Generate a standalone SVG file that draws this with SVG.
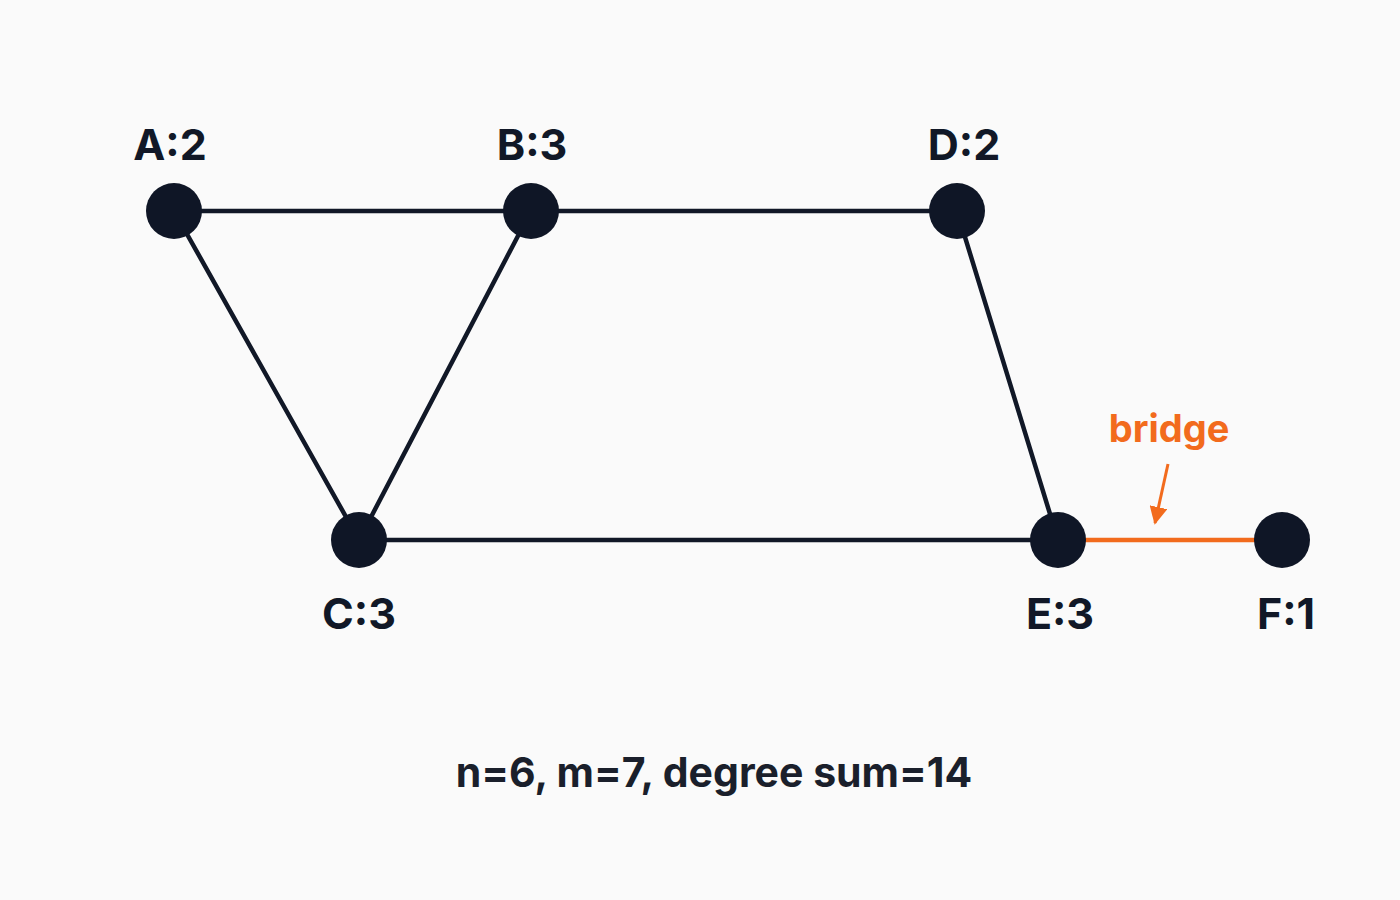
<svg xmlns="http://www.w3.org/2000/svg" width="1400" height="900" viewBox="0 0 1400 900">
<defs>
<style>
.edge{stroke:#111827;stroke-width:4.5;stroke-linecap:round;fill:none}
.bridge{stroke:#F26B1D;stroke-width:4.5;fill:none}
.node{fill:#0F1626}
.lbl{font-family:Inter,"Liberation Sans",sans-serif;font-weight:700;font-size:43px;fill:#111827;text-anchor:middle}
.orange{font-family:Inter,"Liberation Sans",sans-serif;font-weight:700;font-size:38px;fill:#F26B1D;text-anchor:middle}
.cap{font-family:Inter,"Liberation Sans",sans-serif;font-weight:700;font-size:41px;fill:#1a1f2b;text-anchor:middle}
</style>
<marker id="ah" viewBox="0 0 10 10" refX="9" refY="5" markerWidth="6" markerHeight="6" orient="auto" markerUnits="strokeWidth">
<path d="M0,0 L10,5 L0,10 Z" fill="#F26B1D"/>
</marker>
</defs>
<rect width="1400" height="900" fill="#FAFAFA"/>
<g id="connectors">
<line class="edge" x1="174" y1="211" x2="531" y2="211"/>
<line class="edge" x1="531" y1="211" x2="957" y2="211"/>
<line class="edge" x1="174" y1="211" x2="359" y2="540"/>
<line class="edge" x1="531" y1="211" x2="359" y2="540"/>
<line class="edge" x1="957" y1="211" x2="1058" y2="540"/>
<line class="edge" x1="359" y1="540" x2="1058" y2="540"/>
<line class="bridge" x1="1058" y1="540" x2="1282" y2="540"/>
<line stroke="#F26B1D" stroke-width="3" x1="1168" y1="464" x2="1155" y2="523" marker-end="url(#ah)"/>
</g>
<g id="node-A"><circle class="node" cx="174" cy="211" r="28"/><text class="lbl" x="170" y="160">A:2</text></g>
<g id="node-B"><circle class="node" cx="531" cy="211" r="28"/><text class="lbl" x="532" y="160">B:3</text></g>
<g id="node-D"><circle class="node" cx="957" cy="211" r="28"/><text class="lbl" x="964" y="160">D:2</text></g>
<g id="node-C"><circle class="node" cx="359" cy="540" r="28"/><text class="lbl" x="359" y="629">C:3</text></g>
<g id="node-E"><circle class="node" cx="1058" cy="540" r="28"/><text class="lbl" x="1060" y="629">E:3</text></g>
<g id="node-F"><circle class="node" cx="1282" cy="540" r="28"/><text class="lbl" x="1286" y="629">F:1</text></g>
<text class="orange" x="1169" y="442">bridge</text>
<text class="cap" x="714" y="787">n=6, m=7, degree sum=14</text>
</svg>
